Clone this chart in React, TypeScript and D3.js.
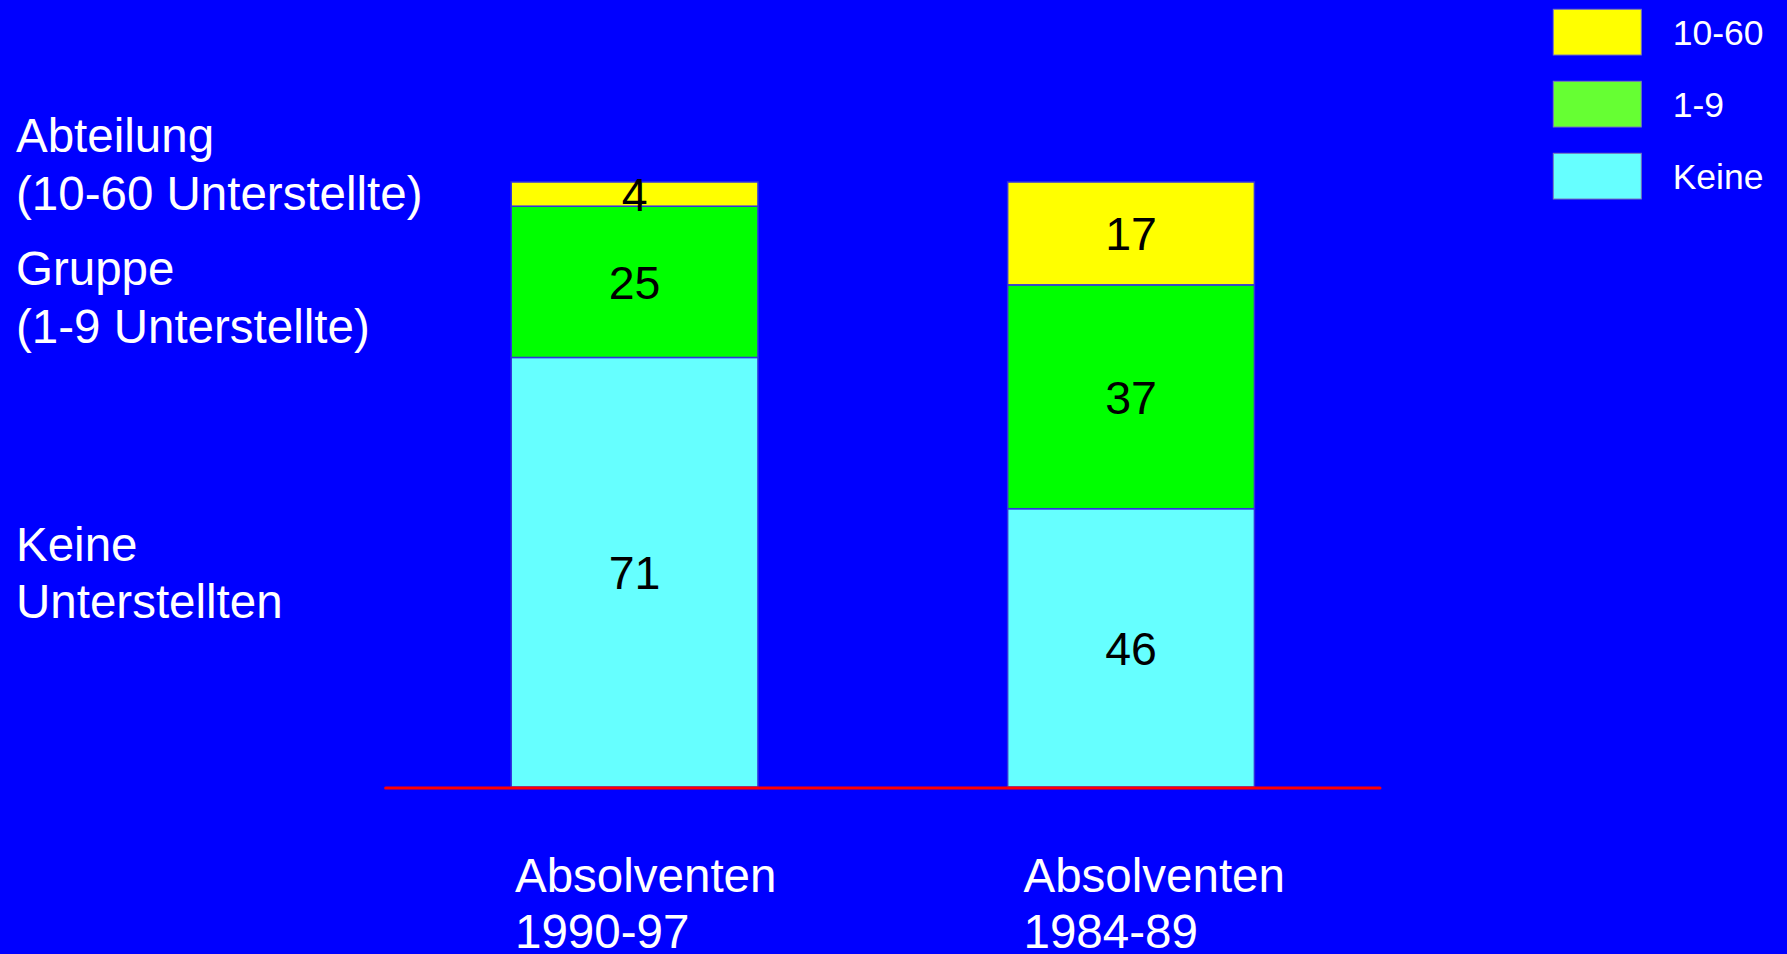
import React from "react";
import * as d3 from "d3";

const categories = ["Absolventen 1990-97", "Absolventen 1984-89"];
const catLines = [["Absolventen", "1990-97"], ["Absolventen", "1984-89"]];
const keine = [71, 46];
const gruppe = [25, 37];
const abteilung = [4, 17];
const seriesKeys = ["Keine", "1-9", "10-60"];
const seriesColors = ["#66ffff", "#00ff00", "#ffff00"];
const legendColors = ["#66ffff", "#66ff33", "#ffff00"];
const sideLabels = [
  ["Abteilung", "(10-60 Unterstellte)"],
  ["Gruppe", "(1-9 Unterstellte)"],
  ["Keine", "Unterstellten"],
];

const W = 1787;
const H = 954;
const FONT = "'Liberation Sans', Arial, Helvetica, sans-serif";

export default function App() {
  const rows = categories.map((c, i) => ({
    cat: c,
    Keine: keine[i],
    "1-9": gruppe[i],
    "10-60": abteilung[i],
  }));
  const stacked = d3.stack<any>().keys(seriesKeys)(rows);

  const x = d3
    .scaleBand<string>()
    .domain(categories)
    .range([385.6, 1380])
    .paddingInner(0.503)
    .paddingOuter(0.253);
  const y = d3.scaleLinear().domain([0, 100]).range([787, 182]);
  const labelX = d3.scalePoint<string>().domain(categories).range([515, 1023.5]);

  const sideBaselines = [[151.7, 210], [285, 343.3], [560.7, 618.3]];
  const legendOrder = [2, 1, 0];
  const legendY = d3.scalePoint<number>().domain([0, 1, 2]).range([9.3, 153.3]);

  return (
    <svg
      width={W}
      height={H}
      style={{ position: "absolute", left: 0, top: 0, display: "block" }}
      fontFamily={FONT}
    >
      <rect x={0} y={0} width={W} height={H} fill="#0000ff" />

      {stacked.map((s, si) => (
        <g key={s.key}>
          {s.map((d, i) => (
            <g key={i}>
              <rect
                x={x(categories[i])!}
                y={y(d[1])}
                width={x.bandwidth()}
                height={y(d[0]) - y(d[1])}
                fill={seriesColors[si]}
                stroke="#3333dd"
                strokeWidth={1.5}
              />
              <text
                x={x(categories[i])! + x.bandwidth() / 2}
                y={(y(d[0]) + y(d[1])) / 2}
                dy="0.36em"
                textAnchor="middle"
                fontSize={46.5}
                fill="#000"
              >
                {d[1] - d[0]}
              </text>
            </g>
          ))}
        </g>
      ))}

      <line
        x1={x.range()[0]}
        x2={x.range()[1]}
        y1={y(0) + 1}
        y2={y(0) + 1}
        stroke="#ff0000"
        strokeWidth={3}
        strokeLinecap="round"
      />

      {categories.map((c, i) => (
        <text key={c} x={labelX(c)} fontSize={47.5} fill="#fff">
          <tspan x={labelX(c)} y={891.7}>{catLines[i][0]}</tspan>
          <tspan x={labelX(c)} y={948.3}>{catLines[i][1]}</tspan>
        </text>
      ))}

      {sideLabels.map((lines, i) => (
        <text key={i} fontSize={47.5} fill="#fff">
          {lines.map((l, j) => (
            <tspan key={j} x={16} y={sideBaselines[i][j]}>
              {l}
            </tspan>
          ))}
        </text>
      ))}

      {legendOrder.map((si, k) => (
        <g key={seriesKeys[si]}>
          <rect
            x={1553.3}
            y={legendY(k)!}
            width={88}
            height={45.7}
            fill={legendColors[si]}
            stroke="#7777bb"
            strokeWidth={1}
          />
          <text
            x={1672.7}
            y={legendY(k)! + 22.85}
            dy="0.36em"
            fontSize={35.5}
            fill="#fff"
          >
            {seriesKeys[si]}
          </text>
        </g>
      ))}
    </svg>
  );
}
